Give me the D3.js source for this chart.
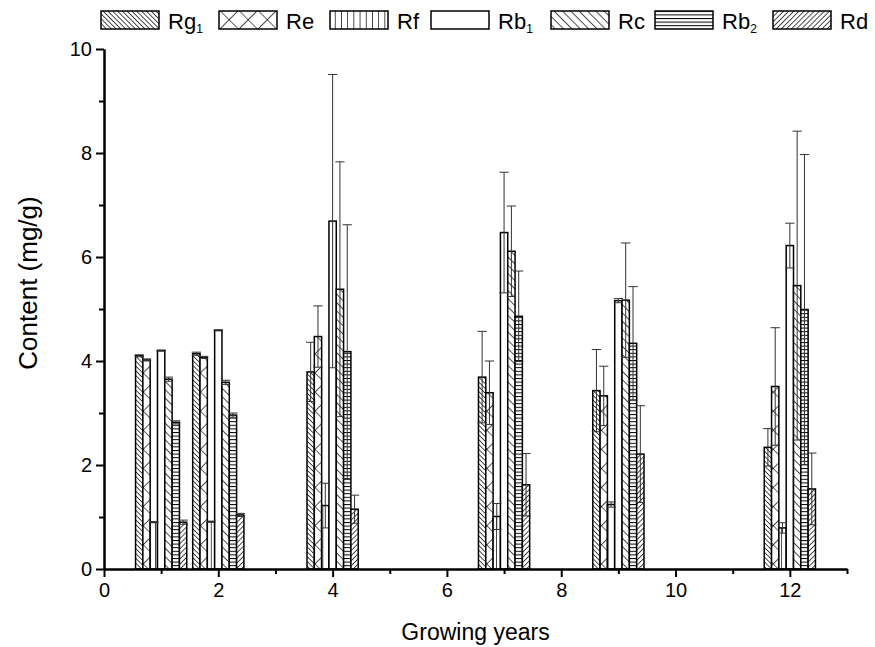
<!DOCTYPE html>
<html><head><meta charset="utf-8">
<script src="https://cdn.jsdelivr.net/npm/d3@7"></script>
<style>body{margin:0;background:#fff}svg{display:block}text{font-family:"Liberation Sans",Arial,sans-serif}</style>
</head><body><div id="chart"></div>
<script>
const years = [1, 2, 4, 7, 9, 12];
const seriesNames = ["Rg1", "Re", "Rf", "Rb1", "Rc", "Rb2", "Rd"];
const Rg1 = [4.10, 4.14, 3.79, 3.69, 3.43, 2.34];
const Re  = [4.02, 4.07, 4.47, 3.39, 3.33, 3.51];
const Rf  = [0.90, 0.91, 1.22, 1.01, 1.24, 0.79];
const Rb1 = [4.20, 4.59, 6.69, 6.47, 5.16, 6.22];
const Rc  = [3.65, 3.59, 5.38, 6.11, 5.17, 5.45];
const Rb2 = [2.82, 2.96, 4.18, 4.86, 4.34, 4.99];
const Rd  = [0.90, 1.04, 1.15, 1.62, 2.21, 1.54];
const Rg1Err = [0.02, 0.03, 0.57, 0.88, 0.79, 0.36];
const ReErr  = [0.02, 0.02, 0.59, 0.61, 0.57, 1.13];
const RfErr  = [0.01, 0.01, 0.43, 0.25, 0.05, 0.10];
const Rb1Err = [0.01, 0.01, 2.82, 1.16, 0.04, 0.43];
const RcErr  = [0.04, 0.04, 2.45, 0.87, 1.10, 2.97];
const Rb2Err = [0.03, 0.04, 2.44, 0.87, 1.09, 2.98];
const RdErr  = [0.04, 0.03, 0.27, 0.60, 0.93, 0.69];
const xTicks = [0, 2, 4, 6, 8, 10, 12];
const yTicks = [0, 2, 4, 6, 8, 10];

const values = [Rg1, Re, Rf, Rb1, Rc, Rb2, Rd];
const errors = [Rg1Err, ReErr, RfErr, Rb1Err, RcErr, Rb2Err, RdErr];

const W = 875, H = 647;
const m = {left: 104, right: 28, top: 49, bottom: 78};
const svg = d3.select("#chart").append("svg").attr("width", W).attr("height", H);
const x = d3.scaleLinear().domain([0, 13]).range([m.left, W - m.right]);
const y = d3.scaleLinear().domain([0, 10]).range([H - m.bottom, m.top]);
const barW = 0.128;

// patterns
const defs = svg.append("defs");
function linePattern(id, spacing, angle, cross) {
  const p = defs.append("pattern").attr("id", id).attr("patternUnits", "userSpaceOnUse")
    .attr("width", spacing).attr("height", spacing);
  if (angle !== null) p.attr("patternTransform", `rotate(${angle})`);
  p.append("rect").attr("width", spacing).attr("height", spacing).attr("fill", "#fff");
  p.append("line").attr("x1", 0).attr("y1", 0).attr("x2", 0).attr("y2", spacing)
    .attr("stroke", "#000").attr("stroke-width", 1.4);
  if (cross) p.append("line").attr("x1", 0).attr("y1", 0).attr("x2", spacing).attr("y2", 0)
    .attr("stroke", "#000").attr("stroke-width", 1.2);
  return `url(#${id})`;
}
function hPattern(id, spacing) {
  const p = defs.append("pattern").attr("id", id).attr("patternUnits", "userSpaceOnUse")
    .attr("width", spacing).attr("height", spacing);
  p.append("rect").attr("width", spacing).attr("height", spacing).attr("fill", "#fff");
  p.append("line").attr("x1", 0).attr("y1", 0.5).attr("x2", spacing).attr("y2", 0.5)
    .attr("stroke", "#000").attr("stroke-width", 1);
  return `url(#${id})`;
}
const fills = [
  linePattern("pRg1", 3.4, -45, false),
  linePattern("pRe", 13.5, 45, true),
  linePattern("pRf", 6.2, null, false),
  "#fff",
  linePattern("pRc", 5.9, -45, false),
  hPattern("pRb2", 3.6),
  linePattern("pRd", 3.6, 45, false)
];

// bars
const gBars = svg.append("g");
values.forEach((vals, si) => {
  gBars.selectAll(null).data(years.map((yr, i) => ({yr, v: vals[i]}))).join("rect")
    .attr("x", d => x(d.yr + (si - 3.5) * barW))
    .attr("width", x(barW) - x(0))
    .attr("y", d => y(d.v))
    .attr("height", d => y(0) - y(d.v))
    .attr("fill", fills[si]).attr("stroke", "#000").attr("stroke-width", 1.5);
});
// error bars
const gErr = svg.append("g").attr("stroke", "#333").attr("stroke-width", 1);
values.forEach((vals, si) => {
  years.forEach((yr, i) => {
    const cx = x(yr + (si - 3) * barW);
    const hi = y(vals[i] + errors[si][i]), lo = y(vals[i] - errors[si][i]);
    const cw = (x(barW) - x(0)) / 2 + 1;
    gErr.append("line").attr("x1", cx).attr("x2", cx).attr("y1", hi).attr("y2", lo);
    gErr.append("line").attr("x1", cx - cw).attr("x2", cx + cw).attr("y1", hi).attr("y2", hi);
    gErr.append("line").attr("x1", cx - cw).attr("x2", cx + cw).attr("y1", lo).attr("y2", lo);
  });
});

// axes
const xAxis = svg.append("g").attr("transform", `translate(0,${y(0)})`)
  .call(d3.axisBottom(x).tickValues(xTicks).tickFormat(d3.format("d")).tickSize(8).tickSizeOuter(0).tickPadding(6));
const xMinor = svg.append("g").attr("transform", `translate(0,${y(0)})`)
  .call(d3.axisBottom(x).tickValues([1, 3, 5, 7, 9, 11, 13]).tickFormat("").tickSize(5).tickSizeOuter(0));
const yAxis = svg.append("g").attr("transform", `translate(${x(0)},0)`)
  .call(d3.axisLeft(y).tickValues(yTicks).tickFormat(d3.format("d")).tickSize(8).tickSizeOuter(0).tickPadding(4));
const yMinor = svg.append("g").attr("transform", `translate(${x(0)},0)`)
  .call(d3.axisLeft(y).tickValues([1, 3, 5, 7, 9]).tickFormat("").tickSize(5).tickSizeOuter(0));
[xAxis, xMinor, yAxis, yMinor].forEach(g => {
  g.select(".domain").attr("stroke", "#000").attr("stroke-width", 2);
  g.selectAll(".tick line").attr("stroke", "#000").attr("stroke-width", 2);
  g.selectAll("text").attr("font-size", 20).attr("fill", "#000").attr("font-family", "'Liberation Sans', Arial, sans-serif");
});

svg.append("text").attr("x", x(6.5)).attr("y", 640).attr("text-anchor", "middle")
  .attr("font-size", 23).text("Growing years");
svg.append("text").attr("transform", `translate(37,283) rotate(-90)`).attr("text-anchor", "middle")
  .attr("font-size", 26).text("Content (mg/g)");

// legend
const leg = svg.append("g");
const boxX = [101, 219, 330, 431, 551, 655, 773];
const boxW = 58, boxTop = 11, boxH = 18;
seriesNames.forEach((name, si) => {
  const lx = boxX[si];
  leg.append("rect").attr("x", lx).attr("y", boxTop).attr("width", boxW).attr("height", boxH)
    .attr("fill", fills[si]).attr("stroke", "#000").attr("stroke-width", 1.5);
  const t = leg.append("text").attr("x", lx + boxW + 9).attr("y", boxTop + boxH).attr("font-size", 22);
  const m2 = name.match(/^(\D+)(\d*)$/);
  t.append("tspan").text(m2[1]);
  if (m2[2]) t.append("tspan").attr("font-size", 12).attr("dy", 4).text(m2[2]);
});
</script></body></html>
